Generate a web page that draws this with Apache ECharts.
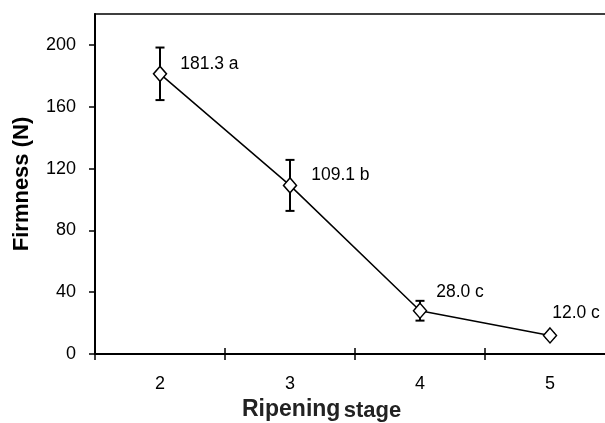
<!DOCTYPE html>
<html>
<head>
<meta charset="utf-8">
<script src="https://cdn.jsdelivr.net/npm/echarts@6/dist/echarts.min.js"></script>
<style>html,body{margin:0;padding:0;background:#fff}#c{width:605px;height:423px}</style>
</head>
<body>
<div id="c"></div>
<script>
var categories = ['2', '3', '4', '5'];
var firmness = [181.3, 109.1, 28.0, 12.0];
var errors = [17.0, 16.5, 6.4, 1.5];
var letters = ['a', 'b', 'c', 'c'];
var yTicks = [0, 40, 80, 120, 160, 200];
var labelOffsets = [[13, -10], [14, -10], [9, -19], [-5, -22]];

var font = 'Liberation Sans, Arial, sans-serif';
var chart = echarts.init(document.getElementById('c'));

var lineData = firmness.map(function (v, i) {
  return {
    value: v,
    label: { offset: labelOffsets[i] }
  };
});

chart.setOption({
  animation: false,
  grid: { left: 95, top: 14, width: 520, bottom: 69, outerBoundsMode: 'none', containLabel: false, show: true, borderColor: '#000', borderWidth: 1.5, backgroundColor: 'transparent' },
  xAxis: [{
    type: 'category',
    data: categories,
    position: 'bottom',
    axisLine: { lineStyle: { color: '#000', width: 2 } },
    axisTick: { show: true, length: 6, lineStyle: { color: '#000', width: 1.5 } },
    axisLabel: { color: '#000', fontSize: 18, fontFamily: font, margin: 21 },
    splitLine: { show: false }
  }, {
    type: 'category',
    data: categories,
    position: 'bottom',
    axisLine: { show: false },
    axisTick: { show: true, inside: true, length: 6, lineStyle: { color: '#000', width: 1.5 } },
    axisLabel: { show: false },
    splitLine: { show: false }
  }],
  yAxis: {
    type: 'value',
    min: 0, max: 220, interval: 40,
    name: 'Firmness (N)',
    nameLocation: 'middle',
    nameGap: 62,
    nameTextStyle: { color: '#000', fontSize: 22, fontWeight: 'bold', fontFamily: font },
    axisLine: { show: true, lineStyle: { color: '#000', width: 2 } },
    axisTick: { show: true, length: 6, lineStyle: { color: '#000', width: 1.5 }, customValues: yTicks },
    axisLabel: { color: '#000', fontSize: 18, fontFamily: font, margin: 19, customValues: yTicks },
    splitLine: { show: false }
  },
  graphic: [{
    type: 'text',
    left: 242,
    top: 398,
    style: {
      text: '{a|Ripening} {b|stage}',
      rich: {
        a: { fontSize: 23, fontWeight: 'bold', fontFamily: font, fill: '#222' },
        b: { fontSize: 22, fontWeight: 'bold', fontFamily: font, fill: '#222', padding: [3, 0, 0, 0] }
      }
    }
  }],
  series: [{
    type: 'custom',
    z: 2,
    renderItem: function (params, api) {
      var x = api.value(0), y = api.value(1), e = api.value(2);
      var hi = api.coord([x, y + e]);
      var lo = api.coord([x, y - e]);
      var w = 4.5;
      var st = { stroke: '#000', lineWidth: 2 };
      return {
        type: 'group',
        children: [
          { type: 'line', shape: { x1: hi[0], y1: hi[1], x2: lo[0], y2: lo[1] }, style: st },
          { type: 'line', shape: { x1: hi[0] - w, y1: hi[1], x2: hi[0] + w, y2: hi[1] }, style: st },
          { type: 'line', shape: { x1: lo[0] - w, y1: lo[1], x2: lo[0] + w, y2: lo[1] }, style: st }
        ]
      };
    },
    data: firmness.map(function (v, i) { return [i, v, errors[i]]; })
  }, {
    type: 'line',
    z: 3,
    data: lineData,
    symbol: 'diamond',
    symbolSize: [13, 15],
    showAllSymbol: true,
    lineStyle: { color: '#000', width: 1.5 },
    itemStyle: { color: '#fff', borderColor: '#000', borderWidth: 1.5 },
    label: {
      show: true,
      position: 'right',
      distance: 0,
      align: 'left',
      color: '#000',
      fontSize: 17.5,
      fontFamily: font,
      formatter: function (p) { return p.value.toFixed(1) + ' ' + letters[p.dataIndex]; }
    }
  }]
});
</script>
</body>
</html>
